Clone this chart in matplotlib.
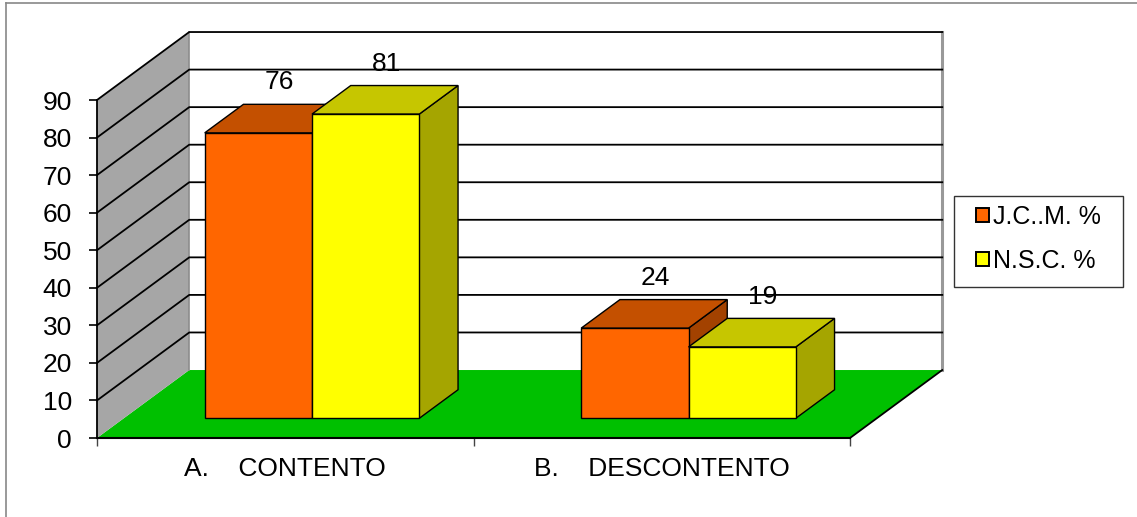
import matplotlib
matplotlib.use("Agg")
import matplotlib.pyplot as plt
from matplotlib.patches import Polygon, Patch, Rectangle
from matplotlib.lines import Line2D

plt.rcParams['font.family'] = ['Liberation Sans', 'DejaVu Sans']

# Data
categories = ["A.    CONTENTO", "B.    DESCONTENTO"]
series_names = ["J.C..M. %", "N.S.C. %"]
jcm = [76, 24]
nsc = [81, 19]
yticks = [0, 10, 20, 30, 40, 50, 60, 70, 80, 90]

# colours: front, top, side
face_colors = [("#FF6600", "#C45000", "#A34200"),
               ("#FFFF00", "#C6C600", "#A5A500")]

# 3d look: depth moves a point right and up (in data units)
DEPTH_X = 0.245
DEPTH_Y = 18.1
BAR_W = 0.285
D0, D1 = 0.29, 0.71
FS = 19


def proj(x, y, d):
    return (x + d * DEPTH_X, y + d * DEPTH_Y)


def face(ax, pts, color, lw=1.0, ec="black", z=2):
    poly = Polygon([proj(*p) for p in pts], closed=True, facecolor=color,
                   edgecolor=ec, linewidth=lw, clip_on=False, zorder=z)
    ax.add_patch(poly)


fig = plt.figure(figsize=(11.37, 5.17), dpi=100)
ax = fig.add_axes([97 / 1137, 1 - 438 / 517, 753 / 1137, 338 / 517])
ax.set_xlim(0, 2)
ax.set_ylim(0, 90)
ax.patch.set_visible(False)

ymax = yticks[-1]
n_cat = len(categories)

# floor
face(ax, [(0, 0, 0), (n_cat, 0, 0), (n_cat, 0, 1), (0, 0, 1)], "#00C000", lw=0, ec="none", z=1)
ax.plot(*zip(proj(n_cat, 0, 0), proj(n_cat, 0, 1)), color="black", lw=1.3, clip_on=False, zorder=1.5)
# left wall
face(ax, [(0, 0, 0), (0, 0, 1), (0, ymax, 1), (0, ymax, 0)], "#A6A6A6", lw=0, ec="none", z=1)
# back wall
face(ax, [(0, 0, 1), (n_cat, 0, 1), (n_cat, ymax, 1), (0, ymax, 1)], "white", lw=0, ec="none", z=1)
ax.plot(*zip(proj(0, 0, 1), proj(0, ymax, 1)), color="#8C8C8C", lw=1.2, clip_on=False, zorder=1.2)
ax.plot(*zip(proj(n_cat, 0, 1), proj(n_cat, ymax, 1)), color="#999999", lw=2.2, clip_on=False, zorder=1.2)

# gridlines over wall and back wall
for v in yticks[1:]:
    pts = [proj(0, v, 0), proj(0, v, 1), proj(n_cat, v, 1)]
    ax.plot(*zip(*pts), color="black", lw=1.3, clip_on=False, zorder=1.5)

# bars
for i in range(n_cat):
    for s, vals in enumerate([jcm, nsc]):
        x0 = i + 0.5 - BAR_W + s * BAR_W
        x1 = x0 + BAR_W
        v = vals[i]
        front_c, top_c, side_c = face_colors[s]
        z = 3 + i * 2 + s
        face(ax, [(x1, 0, D0), (x1, 0, D1), (x1, v, D1), (x1, v, D0)], side_c, z=z)
        face(ax, [(x0, v, D0), (x1, v, D0), (x1, v, D1), (x0, v, D1)], top_c, z=z)
        face(ax, [(x0, 0, D0), (x1, 0, D0), (x1, v, D0), (x0, v, D0)], front_c, z=z)
        lx, ly = proj((x0 + x1) / 2, v, 0.5)
        ax.annotate(str(v), (lx, ly), xytext=(1, 26), textcoords="offset points",
                    ha="center", va="center", fontsize=FS, zorder=10,
                    annotation_clip=False)

# axes
for side in ["top", "right"]:
    ax.spines[side].set_visible(False)
ax.spines["left"].set_linewidth(1.3)
ax.spines["bottom"].set_linewidth(1.5)
ax.spines["left"].set_zorder(2.5)
ax.spines["bottom"].set_zorder(2.5)
ax.set_yticks(yticks)
ax.tick_params(axis="y", length=6, width=1.2, pad=12, labelsize=FS)
ax.set_xticks(range(n_cat + 1))
ax.set_xticklabels([])
ax.tick_params(axis="x", which="major", length=6, width=1.0, color="#444444")
ax.set_xticks([i + 0.5 for i in range(n_cat)], minor=True)
ax.set_xticklabels(categories, minor=True)
ax.tick_params(axis="x", which="minor", length=0, pad=14, labelsize=FS)

# legend (entries without frame, frame drawn separately)
handles = [Patch(facecolor=face_colors[k][0], edgecolor="black", linewidth=1.4, label=series_names[k])
           for k in range(2)]
fig.legend(handles=handles, loc="upper left", bbox_to_anchor=(976 / 1137, 1 - 205 / 517),
           frameon=False, fontsize=18, handlelength=0.5, handleheight=0.5,
           handletextpad=0.18, labelspacing=0.78, borderpad=0, borderaxespad=0)
fig.add_artist(Rectangle((954 / 1137, 1 - 287 / 517), 169 / 1137, 91 / 517,
                         transform=fig.transFigure, facecolor="none",
                         edgecolor="#333333", linewidth=1.0))

# chart border (top and left)
fig.add_artist(Line2D([6 / 1137, 1], [1 - 3 / 517, 1 - 3 / 517], color="#888888", lw=1.2))
fig.add_artist(Line2D([6 / 1137, 6 / 1137], [0, 1 - 3 / 517], color="#888888", lw=1.2))

fig.savefig("out.png", dpi=100)
